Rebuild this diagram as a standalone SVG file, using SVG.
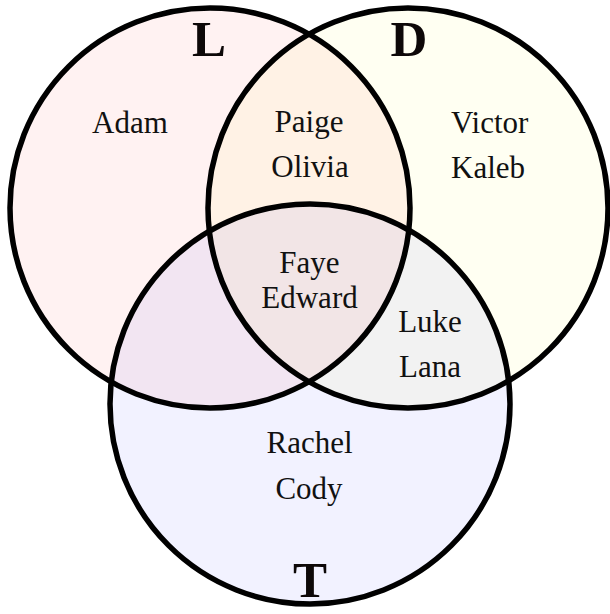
<svg xmlns="http://www.w3.org/2000/svg" width="610" height="614" viewBox="0 0 610 614">
<style>
.fill{stroke:none}
.ring{fill:none;stroke:#000;stroke-width:5.5}
text{font-family:'Liberation Serif',serif}
.name{font-size:31px;fill:#111;text-anchor:middle}
.set{font-size:51px;font-weight:bold;fill:#0d0808;text-anchor:middle}
</style>
<rect width="610" height="614" fill="#fff"/>
<g id="fills">
<circle class="fill" cx="210" cy="208" r="200" fill="#ff0000" fill-opacity="0.05"/>
<circle class="fill" cx="408" cy="208" r="200" fill="#ffff00" fill-opacity="0.05"/>
<circle class="fill" cx="310" cy="404" r="200" fill="#0000ff" fill-opacity="0.05"/>
</g>
<g id="set-L">
<circle class="ring" cx="210" cy="208" r="200"/>
<text class="set" font-family="Liberation Serif" x="209" y="56">L</text>
</g>
<g id="set-D">
<circle class="ring" cx="408" cy="208" r="200"/>
<text class="set" font-family="Liberation Serif" x="409" y="56">D</text>
</g>
<g id="set-T">
<circle class="ring" cx="310" cy="404" r="200"/>
<text class="set" font-family="Liberation Serif" x="310" y="597">T</text>
</g>
<g id="region-L" font-family="Liberation Serif">
<text class="name" x="130" y="133">Adam</text>
</g>
<g id="region-D" font-family="Liberation Serif">
<text class="name" x="451" y="133" text-anchor="start" style="text-anchor:start">Victor</text>
<text class="name" x="451" y="178" text-anchor="start" style="text-anchor:start">Kaleb</text>
</g>
<g id="region-LD" font-family="Liberation Serif">
<text class="name" x="309" y="132">Paige</text>
<text class="name" x="310" y="177">Olivia</text>
</g>
<g id="region-LDT" font-family="Liberation Serif">
<text class="name" x="309.5" y="273">Faye</text>
<text class="name" x="309.5" y="308">Edward</text>
</g>
<g id="region-DT" font-family="Liberation Serif">
<text class="name" x="430" y="332">Luke</text>
<text class="name" x="430" y="377">Lana</text>
</g>
<g id="region-T" font-family="Liberation Serif">
<text class="name" x="309.5" y="453">Rachel</text>
<text class="name" x="309" y="499">Cody</text>
</g>
<g id="connectors"/>
</svg>
